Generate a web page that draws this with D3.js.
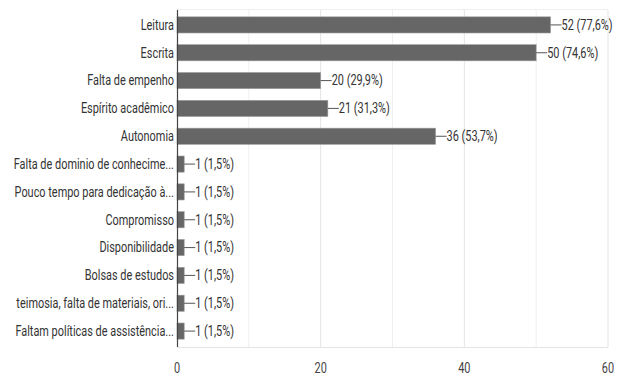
<!DOCTYPE html>
<html>
<head>
<meta charset="utf-8">
<script src="https://cdn.jsdelivr.net/npm/d3@7"></script>
<style>
  html, body { margin: 0; padding: 0; background: #fff; }
  svg { display: block; }
  text { font-family: Roboto, "Noto Sans", sans-serif; }
</style>
</head>
<body>
<svg id="chart" width="617" height="376"></svg>
<script>
// Survey answers: count of respondents per item
const categories = [
  "Leitura",
  "Escrita",
  "Falta de empenho",
  "Espírito acadêmico",
  "Autonomia",
  "Falta de dominio de conhecime...",
  "Pouco tempo para dedicação à...",
  "Compromisso",
  "Disponibilidade",
  "Bolsas de estudos",
  "teimosia, falta de materiais, ori...",
  "Faltam políticas de assistência..."
];
const counts = [52, 50, 20, 21, 36, 1, 1, 1, 1, 1, 1, 1];
const percents = ["77,6%", "74,6%", "29,9%", "31,3%", "53,7%", "1,5%", "1,5%", "1,5%", "1,5%", "1,5%", "1,5%", "1,5%"];
const xTicks = [0, 20, 40, 60];
const gridTicks = [10, 20, 30, 40, 50, 60];

const data = categories.map((c, i) => ({ cat: c, n: counts[i], pct: percents[i] }));

const svg = d3.select("#chart");
const plot = { left: 177, right: 608, top: 10, bottom: 347 };
const squeeze = 0.78; // narrow glyph rendering

const x = d3.scaleLinear().domain([0, 60]).range([plot.left, plot.right]);
const y = d3.scaleBand().domain(categories).range([11, 345])
  .paddingInner(0.42).paddingOuter(0.21);

// grid
svg.append("g").selectAll("line").data(gridTicks).join("line")
  .attr("x1", d => x(d)).attr("x2", d => x(d))
  .attr("y1", plot.top).attr("y2", plot.bottom)
  .attr("stroke", d => d % 20 === 0 ? "#e4e4e4" : "#efefef")
  .attr("stroke-width", 1);
svg.append("line")
  .attr("x1", plot.left).attr("x2", plot.right)
  .attr("y1", plot.top - 0.5).attr("y2", plot.top - 0.5)
  .attr("stroke", "#efefef");
svg.append("line")
  .attr("x1", plot.left).attr("x2", plot.right)
  .attr("y1", plot.bottom + 0.5).attr("y2", plot.bottom + 0.5)
  .attr("stroke", "#e4e4e4");

// bars
svg.append("g").selectAll("rect").data(data).join("rect")
  .attr("x", x(0))
  .attr("y", d => y(d.cat))
  .attr("width", d => x(d.n) - x(0))
  .attr("height", y.bandwidth())
  .attr("fill", "#666666")
  .attr("stroke", "#9a9a9a")
  .attr("stroke-width", 0.6);

// value leaders and labels
const vals = svg.append("g").selectAll("g").data(data).join("g")
  .attr("transform", d => `translate(${x(d.n)},${y(d.cat) + y.bandwidth() / 2})`);
vals.append("line")
  .attr("x1", 0).attr("x2", 11).attr("y1", 0).attr("y2", 0)
  .attr("stroke", "#555").attr("stroke-width", 1);
vals.append("text")
  .attr("transform", `translate(11,0) scale(${squeeze},1)`)
  .attr("dy", "0.35em")
  .attr("font-size", 14)
  .attr("fill", "#333")
  .text(d => `${d.n} (${d.pct})`);

// category labels
svg.append("g").selectAll("text").data(data).join("text")
  .attr("transform", d => `translate(${plot.left - 3},${y(d.cat) + y.bandwidth() / 2}) scale(${squeeze},1)`)
  .attr("dy", "0.35em")
  .attr("text-anchor", "end")
  .attr("font-size", 14)
  .attr("fill", "#333")
  .text(d => d.cat);

// vertical axis line
svg.append("line")
  .attr("x1", plot.left + 0.5).attr("x2", plot.left + 0.5)
  .attr("y1", plot.top).attr("y2", plot.bottom)
  .attr("stroke", "#444").attr("stroke-width", 1.2);

// x tick labels
svg.append("g").selectAll("text").data(xTicks).join("text")
  .attr("transform", d => `translate(${x(d)},368) scale(${squeeze},1)`)
  .attr("dy", "0.35em")
  .attr("text-anchor", "middle")
  .attr("font-size", 14)
  .attr("fill", "#444")
  .text(d => d);
</script>
</body>
</html>
